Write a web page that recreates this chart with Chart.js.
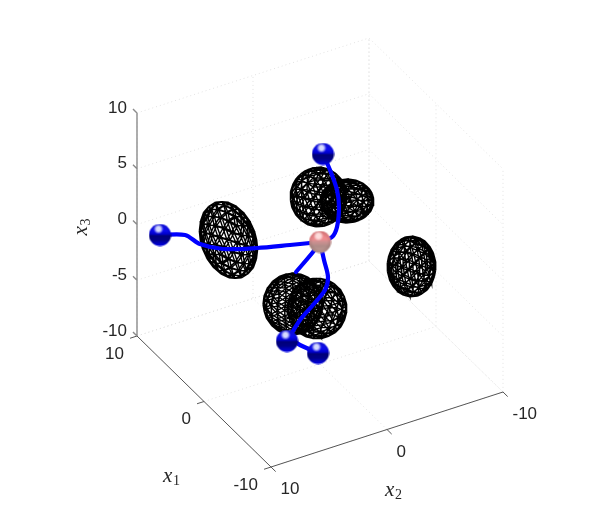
<!DOCTYPE html>
<html>
<head>
<meta charset="utf-8">
<style>
  html, body { margin: 0; background: #fff; }
  canvas { display: block; filter: blur(0.3px); }
</style>
<script src="https://cdn.jsdelivr.net/npm/chart.js@4"></script>
</head>
<body>
<canvas id="chart" width="598" height="525"></canvas>
<script>
// axis ticks, all three axes run -10..10
const x1Ticks = [10, 0, -10];
const x2Ticks = [10, 0, -10];
const x3Ticks = [10, 5, 0, -5, -10];

// trajectories and spheres in view plane units
const pathLeftU = [-16, -13.5, -12, -9.7, -6.3, -3, -1, 0];
const pathLeftV = [1.75, 1.75, 0.85, 0.35, 0.45, 0.75, 0.95, 1.05];
const pathTopU = [0.3, 1, 1.7, 1.9, 1.7, 1.2, 0];
const pathTopV = [9.85, 8.25, 6.25, 4.55, 2.55, 1.55, 1.05];
const pathMidU = [0, -0.7, -2.4];
const pathMidV = [1.05, 0.05, -1.95];
const pathLowU = [-2.8, -2, -0.2];
const pathLowV = [-8.75, -9.25, -10.05];
const pathFrontU = [0, 0.4, 0.8, 0.5, -0.7, -2, -3.3];
const pathFrontV = [1.05, -0.75, -2.45, -3.75, -5.25, -6.75, -8.85];
const blueU = [-16, 0.3, -3.3, -0.2];
const blueV = [1.75, 9.85, -8.85, -10.05];
const pinkU = [0];
const pinkV = [1.05];

// ellipsoids: centre, semi axes, tilt in degrees
const ellCentreU = [-9.15, -0.15, 2.7, -2.7, -0.3, 9.15];
const ellCentreV = [1.25, 5.55, 5.15, -5.15, -5.6, -1.4];
const ellRadiusU = [2.75, 2.85, 2.7, 3, 3, 2.45];
const ellRadiusV = [4, 3, 2.2, 3.1, 3.05, 3.05];
const ellTilt = [20, 0, 0, 0, 0, 0];

// view of the 3d box
const viewU = [-0.67, -1.16, 0];
const viewV = [0.655, -0.375, 1.115];
function project(x1, x2, x3) {
  return {
    x: viewU[0] * x1 + viewU[1] * x2 + viewU[2] * x3,
    y: viewV[0] * x1 + viewV[1] * x2 + viewV[2] * x3
  };
}

function zip(us, vs) {
  return us.map((u, i) => ({x: u, y: vs[i]}));
}

// line pieces separated by NaN points
function pieces(list) {
  const out = [];
  list.forEach(seg => {
    seg.forEach(p => out.push(p));
    out.push({x: NaN, y: NaN});
  });
  return out;
}

// triangulated unit sphere, edges only
function sphereEdges() {
  const t = (1 + Math.sqrt(5)) / 2;
  let verts = [[-1,t,0],[1,t,0],[-1,-t,0],[1,-t,0],[0,-1,t],[0,1,t],[0,-1,-t],[0,1,-t],[t,0,-1],[t,0,1],[-t,0,-1],[-t,0,1]];
  let faces = [[0,11,5],[0,5,1],[0,1,7],[0,7,10],[0,10,11],[1,5,9],[5,11,4],[11,10,2],[10,7,6],[7,1,8],
    [3,9,4],[3,4,2],[3,2,6],[3,6,8],[3,8,9],[4,9,5],[2,4,11],[6,2,10],[8,6,7],[9,8,1]];
  verts = verts.map(norm);
  for (let level = 0; level < 2; level++) {
    const cache = {};
    const mid = (a, b) => {
      const key = a < b ? a + '_' + b : b + '_' + a;
      if (cache[key] === undefined) {
        verts.push(norm([verts[a][0] + verts[b][0], verts[a][1] + verts[b][1], verts[a][2] + verts[b][2]]));
        cache[key] = verts.length - 1;
      }
      return cache[key];
    };
    const next = [];
    faces.forEach(f => {
      const ab = mid(f[0], f[1]), bc = mid(f[1], f[2]), ca = mid(f[2], f[0]);
      next.push([f[0], ab, ca], [f[1], bc, ab], [f[2], ca, bc], [ab, bc, ca]);
    });
    faces = next;
  }
  const seen = {};
  const edges = [];
  faces.forEach(f => {
    [[f[0], f[1]], [f[1], f[2]], [f[2], f[0]]].forEach(e => {
      const key = Math.min(e[0], e[1]) + '_' + Math.max(e[0], e[1]);
      if (!seen[key]) {
        seen[key] = true;
        edges.push(e);
      }
    });
  });
  return {verts, edges};
}

function norm(v) {
  const l = Math.hypot(v[0], v[1], v[2]);
  return [v[0] / l, v[1] / l, v[2] / l];
}

const mesh = sphereEdges();

function ellipsoidData(i) {
  const a = ellTilt[i] * Math.PI / 180;
  const turnY = 0.5 + i * 0.7;
  const turnX = 0.3 + i * 0.4;
  const pts = mesh.verts.map(v => {
    const sx = v[0] * Math.cos(turnY) + v[2] * Math.sin(turnY);
    const sz = -v[0] * Math.sin(turnY) + v[2] * Math.cos(turnY);
    const sy = v[1] * Math.cos(turnX) - sz * Math.sin(turnX);
    const ex = sx * ellRadiusU[i];
    const ey = sy * ellRadiusV[i];
    return {
      x: ellCentreU[i] + ex * Math.cos(a) - ey * Math.sin(a),
      y: ellCentreV[i] + ex * Math.sin(a) + ey * Math.cos(a)
    };
  });
  return pieces(mesh.edges.map(e => [pts[e[0]], pts[e[1]]]));
}

// grid lines on the floor and the two back walls
function gridData() {
  const seg = [];
  x3Ticks.forEach(z => {
    seg.push([project(10, 10, z), project(10, -10, z), project(-10, -10, z)]);
  });
  x2Ticks.forEach(b => {
    seg.push([project(-10, b, -10), project(10, b, -10), project(10, b, 10)]);
  });
  x1Ticks.forEach(a => {
    seg.push([project(a, 10, -10), project(a, -10, -10), project(a, -10, 10)]);
  });
  return pieces(seg);
}

function axisData() {
  const seg = [
    [project(10, 10, -10), project(-10, 10, -10), project(-10, -10, -10)]
  ];
  x1Ticks.forEach(a => seg.push([project(a, 10, -10), project(a, 10.6, -10)]));
  x2Ticks.forEach(b => seg.push([project(-10, b, -10), project(-10.7, b, -10)]));
  return pieces(seg);
}

function zAxisData() {
  const seg = [[project(10, 10, -10), project(10, 10, 10)]];
  x3Ticks.forEach(z => seg.push([project(10, 10, z), project(10.6, 10, z)]));
  return pieces(seg);
}

function sphereSprite(stops, glow, rim) {
  const c = document.createElement('canvas');
  c.width = c.height = 23;
  const g = c.getContext('2d');
  g.beginPath();
  g.arc(11.5, 11.5, 11, 0, Math.PI * 2);
  g.clip();
  const body = g.createLinearGradient(0, 1, 0, 22);
  stops.forEach(s => body.addColorStop(s[0], s[1]));
  g.fillStyle = body;
  g.fillRect(0, 0, 23, 23);
  const edge = g.createRadialGradient(11.5, 11.5, 7, 11.5, 11.5, 11);
  edge.addColorStop(0, 'rgba(0,0,0,0)');
  edge.addColorStop(1, rim);
  g.fillStyle = edge;
  g.fillRect(0, 0, 23, 23);
  const spot = g.createRadialGradient(10, 5.5, 0.5, 10, 5.5, 5);
  spot.addColorStop(0, glow);
  spot.addColorStop(0.35, glow);
  spot.addColorStop(1, 'rgba(255,255,255,0)');
  g.fillStyle = spot;
  g.fillRect(0, 0, 23, 23);
  return c;
}

const blueSprite = sphereSprite(
  [[0, '#1414e0'], [0.3, '#0a0af0'], [0.46, '#0000c8'], [0.54, '#000078'], [0.74, '#000088'], [1, '#0000f0']],
  'rgba(225,230,255,0.95)', 'rgba(0,0,90,0.1)');
const pinkSprite = sphereSprite(
  [[0, '#e87c80'], [0.35, '#f08c90'], [0.5, '#cc9090'], [0.7, '#b08c88'], [1, '#c09a96']],
  'rgba(255,225,225,0.95)', 'rgba(90,60,60,0.15)');

function lineSet(data, color, width, order, extra) {
  return Object.assign({
    data, showLine: true, pointRadius: 0, borderColor: color, borderWidth: width,
    spanGaps: false, order
  }, extra);
}

const datasets = [
  lineSet(gridData(), '#e2e2e2', 1, 6, {borderDash: [1, 3]}),
  lineSet(zAxisData(), '#8c8c8c', 1.4, 5),
  lineSet(axisData(), '#555555', 1, 5)
];
ellCentreU.forEach((_, i) => {
  datasets.push(lineSet(ellipsoidData(i), '#000000', 1.4, 3));
});
[[pathLeftU, pathLeftV], [pathTopU, pathTopV], [pathMidU, pathMidV], [pathLowU, pathLowV], [pathFrontU, pathFrontV]].forEach(p => {
  datasets.push(lineSet(zip(p[0], p[1]), '#0000ff', 4.2, 2, {tension: 0.3, borderCapStyle: 'round', borderJoinStyle: 'round'}));
});
datasets.push({data: zip(blueU, blueV), pointStyle: blueSprite, pointRadius: 11, order: 1});
datasets.push({data: zip(pinkU, pinkV), pointStyle: pinkSprite, pointRadius: 11, order: 1});

const tickInk = '#262626';

const boxLabels = {
  id: 'boxLabels',
  afterDraw(chart) {
    const ctx = chart.ctx;
    const sx = chart.scales.x, sy = chart.scales.y;
    const put = (p, dx, dy, text, align) => {
      ctx.textAlign = align;
      ctx.fillText(text, sx.getPixelForValue(p.x) + dx, sy.getPixelForValue(p.y) + dy);
    };
    ctx.save();
    ctx.fillStyle = tickInk;
    ctx.font = '17px "Liberation Sans"';
    ctx.textBaseline = 'middle';
    x3Ticks.forEach(z => put(project(10, 10, z), -10, -5, String(z), 'right'));
    x1Ticks.forEach(a => put(project(a, 10, -10), -13, 18, String(a), 'right'));
    x2Ticks.forEach(b => put(project(-10, b, -10), 9.5, 22.5, String(b), 'left'));

    const mathLabel = (px, py, sub, rot) => {
      ctx.save();
      ctx.translate(px, py);
      ctx.rotate(rot);
      ctx.textAlign = 'left';
      ctx.textBaseline = 'alphabetic';
      ctx.font = 'italic 21px "Liberation Serif"';
      ctx.fillText('x', -9, 4);
      ctx.font = '14px "Liberation Serif"';
      ctx.fillText(sub, 1, 7);
      ctx.restore();
    };
    const base1 = project(0, 10, -10), base2 = project(-10, 0, -10), base3 = project(10, 10, 0);
    mathLabel(sx.getPixelForValue(base1.x) - 32, sy.getPixelForValue(base1.y) + 76, '1', 0);
    mathLabel(sx.getPixelForValue(base2.x) + 7, sy.getPixelForValue(base2.y) + 62, '2', 0);
    mathLabel(sx.getPixelForValue(base3.x) - 54, sy.getPixelForValue(base3.y) + 2, '3', -Math.PI / 2);
    ctx.restore();
  }
};

new Chart(document.getElementById('chart'), {
  type: 'scatter',
  data: {datasets},
  plugins: [boxLabels],
  options: {
    responsive: false,
    animation: false,
    layout: {padding: 0, autoPadding: false},
    plugins: {legend: {display: false}, tooltip: {enabled: false}},
    scales: {
      x: {display: false, min: -32, max: 27.8},
      y: {display: false, min: -27.25, max: 25.25}
    }
  }
});
</script>
</body>
</html>
